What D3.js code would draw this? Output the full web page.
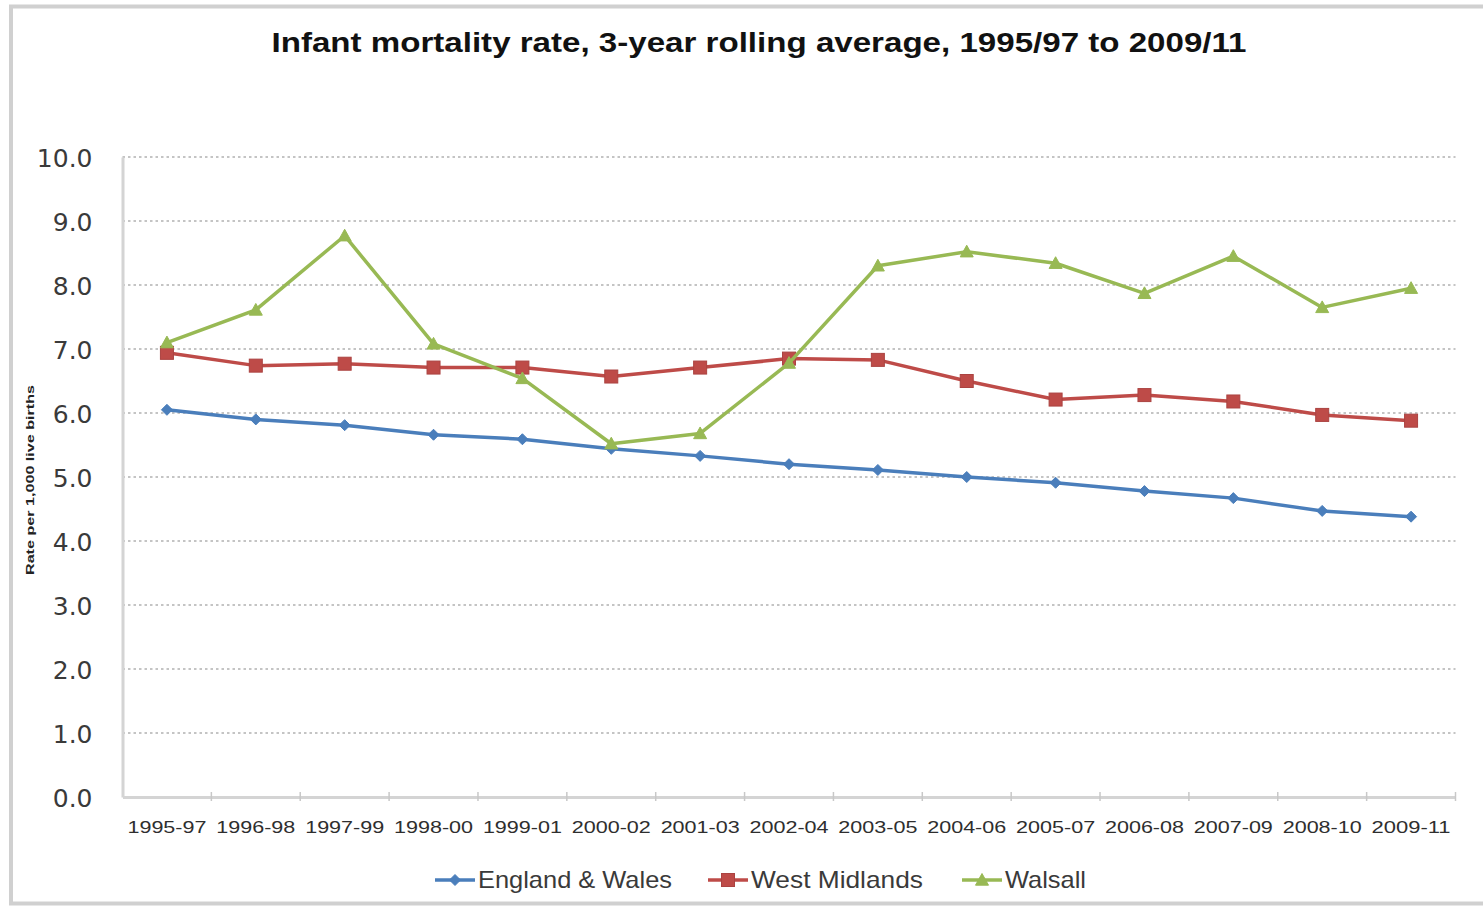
<!DOCTYPE html>
<html>
<head>
<meta charset="utf-8">
<script src="https://cdn.jsdelivr.net/npm/d3@7"></script>
<style>
  html, body { margin: 0; padding: 0; background: #fff; }
  svg { display: block; font-family: "Liberation Sans", "DejaVu Sans", sans-serif; }
</style>
</head>
<body>
<svg id="chart" width="1483" height="909"></svg>
<script>
// Infant mortality rate per 1,000 live births, 3-year rolling averages
const periods = ["1995-97","1996-98","1997-99","1998-00","1999-01","2000-02","2001-03",
                 "2002-04","2003-05","2004-06","2005-07","2006-08","2007-09","2008-10","2009-11"];
const englandWales = [6.05,5.9,5.81,5.66,5.59,5.44,5.33,5.2,5.11,5.0,4.91,4.78,4.67,4.47,4.38];
const westMidlands = [6.94,6.74,6.77,6.71,6.71,6.57,6.71,6.85,6.83,6.5,6.21,6.28,6.18,5.97,5.88];
const walsall      = [7.1,7.61,8.77,7.08,6.54,5.52,5.68,6.78,8.3,8.52,8.34,7.87,8.45,7.65,7.95];
const yTicks = [0,1,2,3,4,5,6,7,8,9,10];
const seriesNames = ["England & Wales","West Midlands","Walsall"];

const series = [
  { name: seriesNames[0], values: englandWales, color: "#4a7ebb", marker: "diamond" },
  { name: seriesNames[1], values: westMidlands, color: "#be4b48", marker: "square" },
  { name: seriesNames[2], values: walsall,      color: "#98b954", marker: "triangle" }
];

const svg = d3.select("#chart");
const plotLeft = 122.5, plotRight = 1455.5, plotTop = 157, plotBottom = 797;

// outer chart frame
svg.append("rect").attr("x", 11).attr("y", 6.5).attr("width", 1490).attr("height", 897)
  .attr("fill", "none").attr("stroke", "#d0d0d0").attr("stroke-width", 4);

// title
svg.append("text").attr("x", 759).attr("y", 52).attr("text-anchor", "middle")
  .attr("font-size", 27).attr("font-weight", "bold").attr("fill", "#111")
  .attr("textLength", 975).attr("lengthAdjust", "spacingAndGlyphs")
  .text("Infant mortality rate, 3-year rolling average, 1995/97 to 2009/11");

const x = d3.scaleBand().domain(periods).range([plotLeft, plotRight]);
const y = d3.scaleLinear().domain([0, 10]).range([plotBottom, plotTop]);
const cx = p => x(p) + x.bandwidth() / 2;

// dotted horizontal gridlines
svg.append("g").selectAll("line").data(yTicks.filter(t => t > 0)).join("line")
  .attr("x1", plotLeft).attr("x2", plotRight)
  .attr("y1", d => y(d)).attr("y2", d => y(d))
  .attr("stroke", "#c4c4c4").attr("stroke-width", 2).attr("stroke-dasharray", "2.5,3");

// y axis
const yAxis = svg.append("g").attr("transform", `translate(${plotLeft},0)`)
  .call(d3.axisLeft(y).tickValues(yTicks).tickFormat(d3.format(".1f")).tickSize(0).tickPadding(30));
yAxis.select(".domain").attr("stroke", "#d4d4d4").attr("stroke-width", 3);
yAxis.selectAll("text").attr("font-size", 25).attr("fill", "#3a3a3a")
  .attr("font-family", "'DejaVu Sans', sans-serif").attr("dy", "0.36em");

// x axis with tick marks between categories
const xAxis = svg.append("g").attr("transform", `translate(0,${plotBottom})`)
  .call(d3.axisBottom(x).tickSize(0).tickPadding(24));
xAxis.select(".domain").attr("stroke", "#d4d4d4").attr("stroke-width", 3);
xAxis.selectAll("text").attr("font-size", 17).attr("fill", "#2e2e2e")
  .attr("textLength", 79).attr("lengthAdjust", "spacingAndGlyphs");
svg.append("g").selectAll("line").data(periods).join("line")
  .attr("x1", d => x(d) + x.bandwidth()).attr("x2", d => x(d) + x.bandwidth())
  .attr("y1", plotBottom - 5).attr("y2", plotBottom + 4)
  .attr("stroke", "#c8c8c8").attr("stroke-width", 1.5);

// y axis title
svg.append("text").attr("transform", "translate(34,480) rotate(-90)")
  .attr("text-anchor", "middle").attr("font-size", 11).attr("font-weight", "bold").attr("fill", "#222")
  .attr("textLength", 190).attr("lengthAdjust", "spacingAndGlyphs")
  .text("Rate per 1,000 live births");

function drawMarker(g, type, color, px, py, scale = 1) {
  if (type === "diamond") {
    const s = 5.5 * scale;
    g.append("path").attr("d", `M${px},${py - s}L${px + s},${py}L${px},${py + s}L${px - s},${py}Z`)
      .attr("fill", color).attr("stroke", color).attr("stroke-width", 1);
  } else if (type === "square") {
    const s = 6.5 * scale;
    g.append("rect").attr("x", px - s).attr("y", py - s).attr("width", 2 * s).attr("height", 2 * s)
      .attr("fill", color).attr("stroke", d3.color(color).darker(0.3)).attr("stroke-width", 1);
  } else {
    const s = 6.5 * scale;
    g.append("path").attr("d", `M${px},${py - s}L${px + s},${py + s * 0.8}L${px - s},${py + s * 0.8}Z`)
      .attr("fill", color).attr("stroke", color).attr("stroke-width", 1);
  }
}

const line = d3.line().x((d, i) => cx(periods[i])).y(d => y(d));
series.forEach(s => {
  const g = svg.append("g");
  g.append("path").datum(s.values).attr("d", line)
    .attr("fill", "none").attr("stroke", s.color).attr("stroke-width", 3.5).attr("stroke-linejoin", "round");
  s.values.forEach((v, i) => drawMarker(g, s.marker, s.color, cx(periods[i]), y(v)));
});

// legend
const legendItems = [
  { x: 435, textLen: 194 },
  { x: 708, textLen: 172 },
  { x: 962, textLen: 81 }
];
series.forEach((s, i) => {
  const lx = legendItems[i].x, ly = 880;
  const g = svg.append("g");
  g.append("line").attr("x1", lx).attr("x2", lx + 40).attr("y1", ly).attr("y2", ly)
    .attr("stroke", s.color).attr("stroke-width", 3.5);
  drawMarker(g, s.marker, s.color, lx + 20, ly);
  g.append("text").attr("x", lx + 43).attr("y", ly).attr("dy", "0.35em")
    .attr("font-size", 24).attr("fill", "#3a3a3a")
    .attr("textLength", legendItems[i].textLen).attr("lengthAdjust", "spacingAndGlyphs")
    .text(s.name);
});
</script>
</body>
</html>
